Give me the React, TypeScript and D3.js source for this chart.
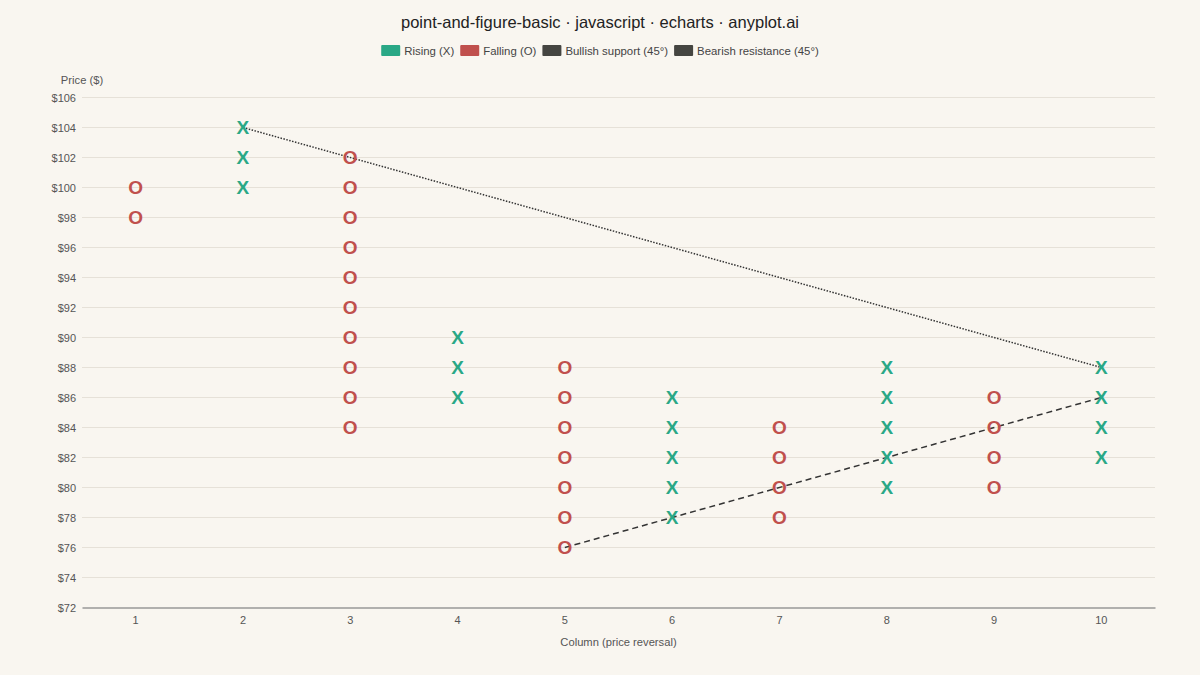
import { useEffect, useRef } from 'react';
import * as d3 from 'd3';

// Point & figure columns: box prices per column
const columns = ['1', '2', '3', '4', '5', '6', '7', '8', '9', '10'];
const columnTypes = ['O', 'X', 'O', 'X', 'O', 'X', 'O', 'X', 'O', 'X'];
const columnBoxes: number[][] = [
  [100, 98],
  [100, 102, 104],
  [102, 100, 98, 96, 94, 92, 90, 88, 86, 84],
  [86, 88, 90],
  [88, 86, 84, 82, 80, 78, 76],
  [78, 80, 82, 84, 86],
  [84, 82, 80, 78],
  [80, 82, 84, 86, 88],
  [86, 84, 82, 80],
  [82, 84, 86, 88],
];
const priceTicks = [72, 74, 76, 78, 80, 82, 84, 86, 88, 90, 92, 94, 96, 98, 100, 102, 104, 106];
const bullishSupport = [{ col: '5', price: 76 }, { col: '10', price: 86 }];
const bearishResistance = [{ col: '2', price: 104 }, { col: '10', price: 88 }];
const legendItems = [
  { label: 'Rising (X)', color: '#2aa886' },
  { label: 'Falling (O)', color: '#c0504d' },
  { label: 'Bullish support (45°)', color: '#454541' },
  { label: 'Bearish resistance (45°)', color: '#454541' },
];

const WIDTH = 1200;
const HEIGHT = 675;
const FONT = '"Liberation Sans", Arial, sans-serif';

export default function App() {
  const svgRef = useRef<SVGSVGElement>(null);

  useEffect(() => {
    if (!svgRef.current) return;
    const svg = d3.select(svgRef.current);
    svg.selectAll('*').remove();

    const margin = { top: 97.5, right: 45, bottom: 67.5, left: 82 };
    const x = d3.scaleBand<string>().domain(columns).range([margin.left, WIDTH - margin.right]);
    const y = d3.scaleLinear().domain([72, 106]).range([HEIGHT - margin.bottom, margin.top]);
    const cx = (c: string) => (x(c) || 0) + x.bandwidth() / 2;

    svg.append('rect').attr('width', WIDTH).attr('height', HEIGHT).attr('fill', '#f9f6f0');

    // Title
    svg.append('text')
      .attr('x', WIDTH / 2).attr('y', 28)
      .attr('text-anchor', 'middle')
      .style('font-family', FONT).style('font-size', '16.5px').style('fill', '#222')
      .text('point-and-figure-basic · javascript · echarts · anyplot.ai');

    // Legend
    const legend = svg.append('g').style('font-family', FONT).style('font-size', '11.4px');
    const texts = legendItems.map(d => legend.append('text').style('fill', '#444').text(d.label));
    const widths = texts.map(t => (t.node() as SVGTextElement).getComputedTextLength());
    const total = d3.sum(widths) + legendItems.length * 23 + (legendItems.length - 1) * 6;
    let lx = WIDTH / 2 - total / 2;
    legendItems.forEach((d, i) => {
      legend.append('rect')
        .attr('x', lx).attr('y', 45).attr('width', 19).attr('height', 11)
        .attr('rx', 1).attr('fill', d.color);
      texts[i].attr('x', lx + 23).attr('y', 55);
      lx += 23 + widths[i] + 6;
    });

    // Grid
    svg.append('g').selectAll('line').data(priceTicks.slice(1)).join('line')
      .attr('x1', margin.left).attr('x2', WIDTH - margin.right)
      .attr('y1', d => y(d)).attr('y2', d => y(d))
      .attr('stroke', '#e6e1d8').attr('stroke-width', 1);

    // Y axis labels
    const yAxis = svg.append('g').attr('transform', `translate(${margin.left},0)`)
      .call(d3.axisLeft(y).tickValues(priceTicks).tickSize(0).tickPadding(6).tickFormat(d => `$${d}`));
    yAxis.select('.domain').remove();
    yAxis.selectAll('text').style('font-family', FONT).style('font-size', '11px').style('fill', '#555');

    svg.append('text')
      .attr('x', 82).attr('y', 84).attr('text-anchor', 'middle')
      .style('font-family', FONT).style('font-size', '11.2px').style('fill', '#555')
      .text('Price ($)');

    // X axis
    const xAxis = svg.append('g').attr('transform', `translate(0,${HEIGHT - margin.bottom})`)
      .call(d3.axisBottom(x).tickSize(0).tickPadding(9));
    xAxis.select('.domain').attr('stroke', '#999').attr('stroke-width', 1.5);
    xAxis.selectAll('text').style('font-family', FONT).style('font-size', '11px').style('fill', '#555');

    svg.append('text')
      .attr('x', (margin.left + WIDTH - margin.right) / 2).attr('y', 646).attr('text-anchor', 'middle')
      .style('font-family', FONT).style('font-size', '11.2px').style('fill', '#555')
      .text('Column (price reversal)');

    // Trend lines
    const line = d3.line<{ col: string; price: number }>().x(d => cx(d.col)).y(d => y(d.price));
    svg.append('path').datum(bearishResistance)
      .attr('d', line).attr('fill', 'none').attr('stroke', '#333')
      .attr('stroke-width', 1.5).attr('stroke-dasharray', '1.5,1.5');
    svg.append('path').datum(bullishSupport)
      .attr('d', line).attr('fill', 'none').attr('stroke', '#333')
      .attr('stroke-width', 1.5).attr('stroke-dasharray', '6,4');

    // Boxes
    const points = columnBoxes.flatMap((boxes, i) =>
      boxes.map(price => ({ col: columns[i], price, type: columnTypes[i] })));
    svg.append('g').selectAll('text').data(points).join('text')
      .attr('x', d => cx(d.col)).attr('y', d => y(d.price))
      .attr('dy', '0.36em').attr('text-anchor', 'middle')
      .style('font-family', FONT).style('font-size', '19px').style('font-weight', 'bold')
      .style('fill', d => d.type === 'X' ? '#2aa886' : '#c0504d')
      .text(d => d.type);
  }, []);

  return (
    <svg ref={svgRef} width={WIDTH} height={HEIGHT}
      style={{ position: 'absolute', left: 0, top: 0, display: 'block' }} />
  );
}
